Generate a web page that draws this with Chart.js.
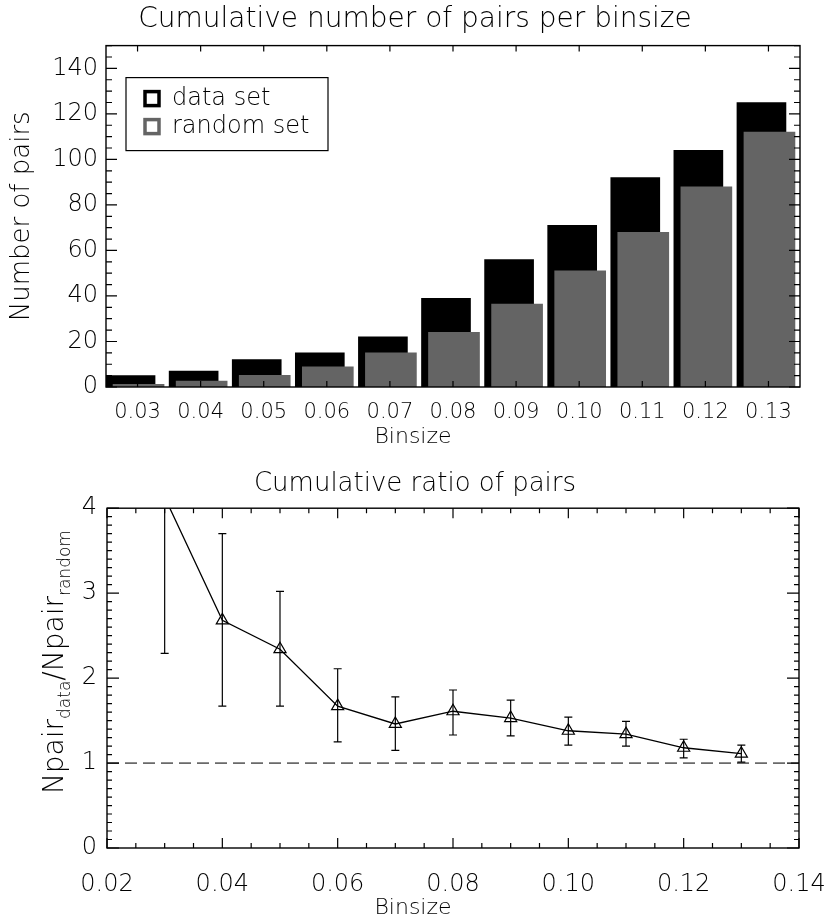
<!DOCTYPE html>
<html>
<head>
<meta charset="utf-8">
<title>Cumulative pairs per binsize</title>
<script src="https://cdn.jsdelivr.net/npm/chart.js@4.4.0/dist/chart.umd.min.js"></script>
<style>
  html, body { margin: 0; padding: 0; background: #fff; }
  .wrap { position: relative; width: 830px; height: 922px; }
  #pairsChart { position: absolute; left: 0; top: 0; }
  #ratioChart { position: absolute; left: 0; top: 455px; }
</style>
</head>
<body>
<div class="wrap">
  <canvas id="pairsChart" width="830" height="455"></canvas>
  <canvas id="ratioChart" width="830" height="467"></canvas>
</div>
<script>
/* ── Data ─────────────────────────────────────────────── */
const binLabels   = ['0.03','0.04','0.05','0.06','0.07','0.08','0.09','0.10','0.11','0.12','0.13'];
const binValues   = [0.03, 0.04, 0.05, 0.06, 0.07, 0.08, 0.09, 0.10, 0.11, 0.12, 0.13];
const dataPairs   = [5, 7, 12, 15, 22, 39, 56, 71, 92, 104, 125];
const randomPairs = [1.2, 2.6, 5.1, 8.9, 15, 24, 36.4, 51, 68, 88, 112];

const pairRatio = [4.13, 2.68, 2.34, 1.67, 1.46, 1.61, 1.53, 1.38, 1.34, 1.18, 1.11];
const ratioLow  = [2.29, 1.67, 1.67, 1.25, 1.15, 1.33, 1.32, 1.21, 1.20, 1.06, 1.01];
const ratioHigh = [5.97, 3.70, 3.02, 2.11, 1.78, 1.86, 1.74, 1.54, 1.49, 1.28, 1.21];
const ratioRef  = 1;

const FONT = '"DejaVu Sans", sans-serif';
const LIGHT = '200';
Chart.defaults.color = '#000';
Chart.defaults.font.family = FONT;
Chart.defaults.font.weight = LIGHT;

/* ── Box frame with inward ticks (IDL style) ──────────── */
function makeFrame(o) {
  return {
    id: 'frame',
    afterDatasetsDraw(chart) {
      const { ctx, chartArea: a, scales: { x, y } } = chart;
      ctx.save();
      ctx.strokeStyle = '#000';
      ctx.lineWidth = 1.4;
      ctx.strokeRect(a.left, a.top, a.width, a.height);
      ctx.lineWidth = 1.2;
      ctx.beginPath();
      const tx = (px, len) => {
        ctx.moveTo(px, a.bottom); ctx.lineTo(px, a.bottom - len);
        ctx.moveTo(px, a.top);    ctx.lineTo(px, a.top + len);
      };
      const ty = (py, len) => {
        ctx.moveTo(a.left, py);  ctx.lineTo(a.left + len, py);
        ctx.moveTo(a.right, py); ctx.lineTo(a.right - len, py);
      };
      x.ticks.forEach((t, i) => tx(x.getPixelForTick(i), o.xMajor));
      y.ticks.forEach((t, i) => ty(y.getPixelForTick(i), o.yMajor));
      if (o.xMinor) {
        const n = Math.round((x.max - x.min) / o.xMinor);
        for (let i = 0; i <= n; i++) tx(x.getPixelForValue(x.min + i * o.xMinor), o.minorLen);
      }
      if (o.yMinor) {
        const n = Math.round((y.max - y.min) / o.yMinor);
        for (let i = 0; i <= n; i++) ty(y.getPixelForValue(y.min + i * o.yMinor), o.minorLen);
      }
      ctx.stroke();
      ctx.restore();
    }
  };
}

// x-axis title centred on the page (as in the original plot), not on the box
function makeXTitle(text, cy) {
  return {
    id: 'xTitle',
    afterDraw(chart) {
      const { ctx } = chart;
      ctx.save();
      ctx.font = LIGHT + ' 22px ' + FONT;
      ctx.fillStyle = '#000';
      ctx.textAlign = 'center';
      ctx.textBaseline = 'middle';
      ctx.fillText(text, chart.width / 2 - 2, cy);
      ctx.restore();
    }
  };
}

// empty right-hand axis, keeps the plot box off the right edge
// while the title stays centred on the whole canvas
const spacerAxis = w => ({
  position: 'right', display: true,
  grid: { display: false, drawTicks: false }, border: { display: false },
  ticks: { display: false },
  afterFit(s) { s.width = w; }
});

/* ── Horizontal bar offset (data set left, random set right) ── */
const shiftPlugin = {
  id: 'barShift',
  afterDatasetsUpdate(chart) {
    chart.data.datasets.forEach((ds, i) => {
      chart.getDatasetMeta(i).data.forEach(bar => { bar.x += ds.xShift || 0; });
    });
  }
};

/* ── Boxed legend inside the plot ─────────────────────── */
const boxLegendPlugin = {
  id: 'boxLegend',
  afterDraw(chart) {
    const { ctx, chartArea: a } = chart;
    const left = a.left + 20, top = a.top + 32, w = 202, h = 73;
    ctx.save();
    ctx.strokeStyle = '#000';
    ctx.lineWidth = 1.2;
    ctx.strokeRect(left, top, w, h);
    ctx.font = LIGHT + ' 24px ' + FONT;
    ctx.textBaseline = 'middle';
    const items = chart.data.datasets.slice().sort((p, q) => q.order - p.order);
    items.forEach((ds, i) => {
      const cy = top + 21 + i * 28;
      ctx.strokeStyle = ds.backgroundColor;
      ctx.lineWidth = 3.5;
      ctx.strokeRect(left + 19, cy - 7, 14, 14);
      ctx.fillStyle = '#000';
      ctx.fillText(ds.label, left + 46, cy);
    });
    ctx.restore();
  }
};

/* ── Reference line, error bars, subscripted y title ──── */
const refLinePlugin = {
  id: 'refLine',
  beforeDatasetsDraw(chart) {
    const { ctx, chartArea: a, scales: { y } } = chart;
    const py = y.getPixelForValue(ratioRef);
    ctx.save();
    ctx.strokeStyle = '#6a6a6a';
    ctx.lineWidth = 1.8;
    ctx.setLineDash([12, 6]);
    ctx.beginPath();
    ctx.moveTo(a.left, py); ctx.lineTo(a.right, py);
    ctx.stroke();
    ctx.restore();
  }
};

const errorBarPlugin = {
  id: 'errorBars',
  afterDatasetsDraw(chart) {
    const { ctx, chartArea: a, scales: { x, y } } = chart;
    ctx.save();
    ctx.beginPath();
    ctx.rect(a.left, a.top, a.width, a.height);
    ctx.clip();
    ctx.strokeStyle = '#000';
    ctx.lineWidth = 1.2;
    ctx.beginPath();
    binValues.forEach((v, i) => {
      const px = x.getPixelForValue(v);
      const lo = y.getPixelForValue(ratioLow[i]);
      const hi = y.getPixelForValue(ratioHigh[i]);
      ctx.moveTo(px, lo); ctx.lineTo(px, hi);
      ctx.moveTo(px - 4, lo); ctx.lineTo(px + 4, lo);
      ctx.moveTo(px - 4, hi); ctx.lineTo(px + 4, hi);
    });
    ctx.stroke();
    ctx.restore();
  }
};

const ratioTitlePlugin = {
  id: 'ratioTitle',
  afterDraw(chart) {
    const { ctx, chartArea: a } = chart;
    const big = LIGHT + ' 28px ' + FONT, small = LIGHT + ' 17px ' + FONT;
    const parts = [['Npair', big, 0], ['data', small, 7], ['/Npair', big, 0], ['random', small, 7]];
    ctx.save();
    let total = 0;
    parts.forEach(p => { ctx.font = p[1]; total += ctx.measureText(p[0]).width; });
    ctx.translate(63, (a.top + a.bottom) / 2 - 16);
    ctx.rotate(-Math.PI / 2);
    ctx.textBaseline = 'alphabetic';
    ctx.fillStyle = '#000';
    let cx = -total / 2;
    parts.forEach(p => {
      ctx.font = p[1];
      ctx.fillText(p[0], cx, p[2]);
      cx += ctx.measureText(p[0]).width;
    });
    ctx.restore();
  }
};

/* ── Top: cumulative pairs ────────────────────────────── */
new Chart(document.getElementById('pairsChart'), {
  type: 'bar',
  data: {
    labels: binLabels,
    datasets: [
      { label: 'data set', data: dataPairs, backgroundColor: '#000000',
        barThickness: 49, grouped: false, order: 1, xShift: -7 },
      { label: 'random set', data: randomPairs, backgroundColor: '#646464',
        barThickness: 51, grouped: false, order: 0, xShift: 1 }
    ]
  },
  options: {
    responsive: false,
    animation: false,
    devicePixelRatio: 1,
    layout: { padding: 0 },
    plugins: {
      legend: { display: false },
      tooltip: { enabled: false },
      title: { display: true, text: 'Cumulative number of pairs per binsize',
               font: { size: 28, weight: LIGHT }, padding: { top: 3, bottom: 9 } }
    },
    scales: {
      x: {
        grid: { display: false, drawTicks: false }, border: { display: false },
        ticks: { font: { size: 21 }, padding: 13, maxRotation: 0 },
        afterFit(s) { s.height = 68; }
      },
      y: {
        min: 0, max: 150,
        grid: { display: false, drawTicks: false }, border: { display: false },
        ticks: { stepSize: 20, includeBounds: false, font: { size: 24 }, padding: 8 },
        title: { display: true, text: 'Number of pairs', font: { size: 26 }, padding: { top: 7, bottom: 0 } },
        afterFit(s) { s.width = 106; }
      },
      right: spacerAxis(30)
    }
  },
  plugins: [shiftPlugin, makeFrame({ xMajor: 6, yMajor: 11, yMinor: 5, minorLen: 6 }),
            boxLegendPlugin, makeXTitle('Binsize', 437)]
});

/* ── Bottom: cumulative ratio ─────────────────────────── */
new Chart(document.getElementById('ratioChart'), {
  type: 'line',
  data: {
    datasets: [{
      label: 'ratio',
      data: binValues.map((v, i) => ({ x: v, y: pairRatio[i] })),
      borderColor: '#000', borderWidth: 1.3, tension: 0, clip: 0,
      pointStyle: 'triangle', pointRadius: 7, pointBorderWidth: 1.2,
      pointBackgroundColor: 'rgba(0,0,0,0)', pointBorderColor: '#000'
    }]
  },
  options: {
    responsive: false,
    animation: false,
    devicePixelRatio: 1,
    layout: { padding: 0 },
    plugins: {
      legend: { display: false },
      tooltip: { enabled: false },
      title: { display: true, text: 'Cumulative ratio of pairs',
               font: { size: 26, weight: LIGHT }, padding: { top: 14, bottom: 8 } }
    },
    scales: {
      x: {
        type: 'linear', min: 0.02, max: 0.14,
        grid: { display: false, drawTicks: false }, border: { display: false },
        ticks: { stepSize: 0.02, font: { size: 24 }, padding: 22, maxRotation: 0,
                 callback: v => v.toFixed(2) },
        afterFit(s) { s.height = 74; s.paddingLeft = 0; s.paddingRight = 0; }
      },
      y: {
        min: 0, max: 4,
        grid: { display: false, drawTicks: false }, border: { display: false },
        ticks: { stepSize: 1, font: { size: 24 }, padding: 10 },
        afterFit(s) { s.width = 107; }
      },
      right: spacerAxis(31)
    }
  },
  plugins: [refLinePlugin, errorBarPlugin,
            makeFrame({ xMajor: 10, yMajor: 12, xMinor: 0.005, yMinor: 0.1, minorLen: 5 }),
            ratioTitlePlugin, makeXTitle('Binsize', 453)]
});
</script>
</body>
</html>
